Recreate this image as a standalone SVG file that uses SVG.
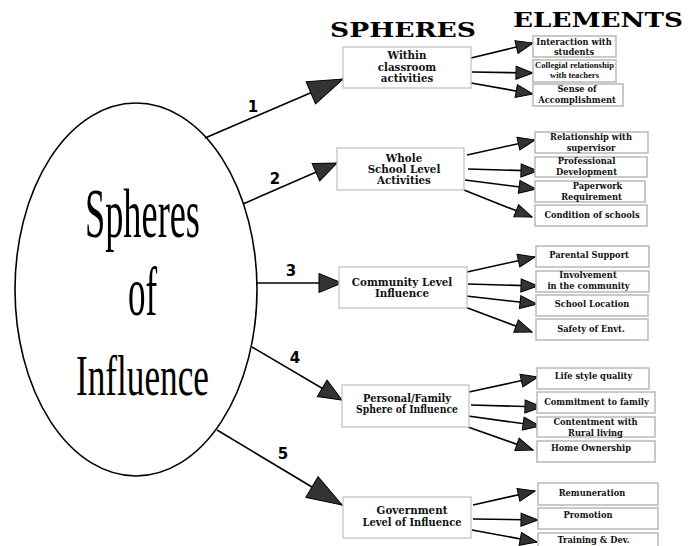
<svg xmlns="http://www.w3.org/2000/svg" width="696" height="546" viewBox="0 0 696 546">
<style>
.hdr{font-family:"DejaVu Serif","Liberation Serif",serif;font-weight:bold;font-size:20px;fill:#000}
.big{font-family:"Liberation Serif","Times New Roman",serif;fill:#000;text-anchor:middle}
.sp{fill:#fff;stroke:#c4c4c4;stroke-width:1.3}
.el{fill:#fff;stroke:#bdbdbd;stroke-width:1.6}
.st{font-family:"DejaVu Serif","Liberation Serif",serif;font-weight:bold;font-size:10.3px;fill:#111;text-anchor:middle}
.et{font-family:"DejaVu Serif","Liberation Serif",serif;font-weight:bold;font-size:8.3px;fill:#111;text-anchor:middle}
.ct{font-family:"Liberation Serif","Times New Roman",serif;font-weight:bold;font-size:9px;fill:#111;text-anchor:middle}
.num{font-family:"DejaVu Sans","Liberation Sans",sans-serif;font-weight:bold;font-size:15px;fill:#000;text-anchor:middle}
.ln{stroke:#000;stroke-width:1.6;fill:none}
.m1{marker-end:url(#ahBig)}
.m2{marker-end:url(#ahMed)}
.m3{marker-end:url(#ahSm)}
</style>
<defs>
<marker id="ahBig" markerUnits="userSpaceOnUse" markerWidth="36" markerHeight="26" refX="35" refY="12" orient="auto" overflow="visible">
<path d="M0,0 L35,12 L0,24 Z" fill="#333" stroke="#000" stroke-width="1"/>
</marker>
<marker id="ahMed" markerUnits="userSpaceOnUse" markerWidth="24" markerHeight="20" refX="23" refY="9.5" orient="auto" overflow="visible">
<path d="M0,0 L23,9.5 L0,19 Z" fill="#333" stroke="#000" stroke-width="1"/>
</marker>
<marker id="ahSm" markerUnits="userSpaceOnUse" markerWidth="18" markerHeight="14" refX="17" refY="6.5" orient="auto" overflow="visible">
<path d="M0,0 L17,6.5 L0,13 Z" fill="#333" stroke="#000" stroke-width="1"/>
</marker>
</defs>

<rect x="0" y="0" width="696" height="546" fill="#fff"/>

<g id="headers">
<text class="hdr" x="330" y="37" textLength="146" lengthAdjust="spacingAndGlyphs">SPHERES</text>
<text class="hdr" x="513" y="27" textLength="170" lengthAdjust="spacingAndGlyphs">ELEMENTS</text>
</g>

<g id="center">
<ellipse cx="136" cy="289.5" rx="121" ry="186.5" fill="#fff" stroke="#000" stroke-width="1.6"/>
<text class="big" font-size="70" transform="translate(142.5,237) scale(0.519,1)">Spheres</text>
<text class="big" font-size="70" transform="translate(142.5,315) scale(0.5,1)">of</text>
<text class="big" font-size="56" transform="translate(142.5,395) scale(0.629,1)">Influence</text>
</g>

<g id="connectors">
<line class="ln m1" x1="205" y1="138" x2="343" y2="79"/>
<line class="ln m2" x1="243" y1="204" x2="337" y2="163"/>
<line class="ln m2" x1="257" y1="283" x2="342" y2="283"/>
<line class="ln m2" x1="252" y1="347" x2="342" y2="400"/>
<line class="ln m1" x1="217" y1="430" x2="342" y2="505"/>

<line class="ln m3" x1="471" y1="58" x2="533" y2="43"/>
<line class="ln m3" x1="472" y1="72" x2="533" y2="73"/>
<line class="ln m3" x1="471" y1="83" x2="533" y2="94"/>

<line class="ln m3" x1="467" y1="155" x2="535" y2="140"/>
<line class="ln m3" x1="468" y1="169" x2="538" y2="171"/>
<line class="ln m3" x1="465" y1="180" x2="536" y2="189"/>
<line class="ln m3" x1="464" y1="190" x2="532" y2="217"/>

<line class="ln m3" x1="467" y1="272" x2="535" y2="257"/>
<line class="ln m3" x1="468" y1="284" x2="538" y2="286"/>
<line class="ln m3" x1="466" y1="296" x2="537" y2="304"/>
<line class="ln m3" x1="465" y1="307" x2="532" y2="332"/>

<line class="ln m3" x1="469" y1="392" x2="538" y2="377"/>
<line class="ln m3" x1="471" y1="405" x2="542" y2="407"/>
<line class="ln m3" x1="468" y1="416" x2="540" y2="426"/>
<line class="ln m3" x1="468" y1="427" x2="533" y2="450"/>

<line class="ln m3" x1="473" y1="505" x2="535" y2="491"/>
<line class="ln m3" x1="473" y1="519" x2="538" y2="520"/>
<line class="ln m3" x1="472" y1="530" x2="537" y2="542"/>

<text class="num" x="253" y="112">1</text>
<text class="num" x="275" y="184">2</text>
<text class="num" x="291" y="276">3</text>
<text class="num" x="295" y="363">4</text>
<text class="num" x="283" y="459">5</text>
</g>

<g id="sphere1">
<rect class="sp" x="343" y="47" width="128" height="41"/>
<text class="st" x="407" y="59">Within</text>
<text class="st" x="407" y="71">classroom</text>
<text class="st" x="407" y="82">activities</text>
</g>
<g id="sphere2">
<rect class="sp" x="337" y="148" width="127" height="42"/>
<text class="st" x="404" y="162">Whole</text>
<text class="st" x="404" y="173">School Level</text>
<text class="st" x="404" y="184">Activities</text>
</g>
<g id="sphere3">
<rect class="sp" x="339" y="267" width="128" height="41"/>
<text class="st" x="402" y="286">Community Level</text>
<text class="st" x="402" y="297">Influence</text>
</g>
<g id="sphere4">
<rect class="sp" x="342" y="385" width="127" height="42"/>
<text class="st" x="407" y="402" textLength="88" lengthAdjust="spacingAndGlyphs">Personal/Family</text>
<text class="st" x="407" y="413" textLength="102" lengthAdjust="spacingAndGlyphs">Sphere of Influence</text>
</g>
<g id="sphere5">
<rect class="sp" x="343" y="497" width="128" height="41"/>
<text class="st" x="412" y="514">Government</text>
<text class="st" x="412" y="526" textLength="99" lengthAdjust="spacingAndGlyphs">Level of Influence</text>
</g>

<g id="e1a"><rect class="el" x="533" y="36" width="83" height="21"/>
<text class="et" x="574" y="45">Interaction with</text><text class="et" x="574" y="55">students</text></g>
<g id="e1b"><rect class="el" x="533" y="60" width="83" height="22"/>
<text class="ct" x="574.5" y="68" textLength="79" lengthAdjust="spacingAndGlyphs">Collegial relationship</text><text class="ct" x="574.5" y="78" textLength="49" lengthAdjust="spacingAndGlyphs">with teachers</text></g>
<g id="e1c"><rect class="el" x="533" y="84" width="90" height="22"/>
<text class="et" x="577" y="92">Sense of</text><text class="et" x="577" y="103">Accomplishment</text></g>

<g id="e2a"><rect class="el" x="535" y="132" width="113" height="21"/>
<text class="et" x="591" y="140">Relationship with</text><text class="et" x="591" y="151">supervisor</text></g>
<g id="e2b"><rect class="el" x="535" y="157" width="112" height="20"/>
<text class="et" x="586.5" y="164">Professional</text><text class="et" x="586.5" y="175">Development</text></g>
<g id="e2c"><rect class="el" x="535" y="181" width="110" height="21"/>
<text class="et" x="597.5" y="189">Paperwork</text><text class="et" x="591.5" y="200">Requirement</text></g>
<g id="e2d"><rect class="el" x="535" y="205" width="112" height="21"/>
<text class="et" x="592" y="218">Condition of schools</text></g>

<g id="e3a"><rect class="el" x="536" y="246" width="113" height="21"/>
<text class="et" x="589" y="258">Parental Support</text></g>
<g id="e3b"><rect class="el" x="536" y="271" width="113" height="21"/>
<text class="et" x="588" y="278">Involvement</text><text class="et" x="588.5" y="289">in the community</text></g>
<g id="e3c"><rect class="el" x="536" y="295" width="112" height="21"/>
<text class="et" x="592" y="307">School Location</text></g>
<g id="e3d"><rect class="el" x="536" y="319" width="112" height="21"/>
<text class="et" x="591" y="332">Safety of Envt.</text></g>

<g id="e4a"><rect class="el" x="537" y="368" width="112" height="21"/>
<text class="et" x="593.5" y="379">Life style quality</text></g>
<g id="e4b"><rect class="el" x="537" y="392" width="118" height="21"/>
<text class="et" x="596.5" y="405">Commitment to family</text></g>
<g id="e4c"><rect class="el" x="537" y="417" width="118" height="20"/>
<text class="et" x="595.5" y="425">Contentment with</text><text class="et" x="595.5" y="436">Rural living</text></g>
<g id="e4d"><rect class="el" x="537" y="441" width="118" height="21"/>
<text class="et" x="591" y="451">Home Ownership</text></g>

<g id="e5a"><rect class="el" x="538" y="483" width="120" height="22"/>
<text class="et" x="592" y="496">Remuneration</text></g>
<g id="e5b"><rect class="el" x="538" y="508" width="120" height="21"/>
<text class="et" x="588" y="518">Promotion</text></g>
<g id="e5c"><rect class="el" x="538" y="533" width="120" height="20"/>
<text class="et" x="593.5" y="543">Training &amp; Dev.</text></g>
</svg>
